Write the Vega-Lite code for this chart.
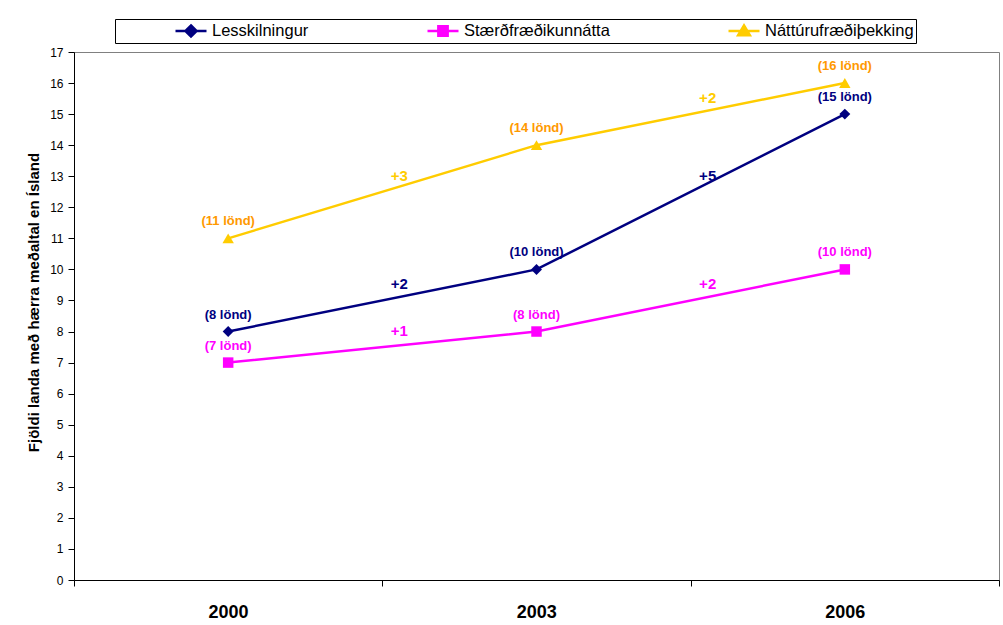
{
  "$schema": "https://vega.github.io/schema/vega-lite/v6.json",
  "width": 925,
  "height": 528,
  "autosize": {"type": "none"},
  "padding": {"left": 74, "top": 52, "right": 4, "bottom": 45},
  "background": "#ffffff",
  "config": {
    "font": "Liberation Sans",
    "view": {"stroke": "#808080", "strokeWidth": 1},
    "axisY": {"labelOverlap": false}
  },
  "datasets": {
    "scores": [
      {"series": "Lesskilningur", "year": 2000, "value": 8, "label": "(8 lönd)"},
      {"series": "Lesskilningur", "year": 2003, "value": 10, "label": "(10 lönd)"},
      {"series": "Lesskilningur", "year": 2006, "value": 15, "label": "(15 lönd)"},
      {"series": "Stærðfræðikunnátta", "year": 2000, "value": 7, "label": "(7 lönd)"},
      {"series": "Stærðfræðikunnátta", "year": 2003, "value": 8, "label": "(8 lönd)"},
      {"series": "Stærðfræðikunnátta", "year": 2006, "value": 10, "label": "(10 lönd)"},
      {"series": "Náttúrufræðiþekking", "year": 2000, "value": 11, "label": "(11 lönd)"},
      {"series": "Náttúrufræðiþekking", "year": 2003, "value": 14, "label": "(14 lönd)"},
      {"series": "Náttúrufræðiþekking", "year": 2006, "value": 16, "label": "(16 lönd)"}
    ],
    "changes": [
      {"series": "Lesskilningur", "year": 2001.5, "value": 9, "change": "+2"},
      {"series": "Lesskilningur", "year": 2004.5, "value": 12.5, "change": "+5"},
      {"series": "Stærðfræðikunnátta", "year": 2001.5, "value": 7.5, "change": "+1"},
      {"series": "Stærðfræðikunnátta", "year": 2004.5, "value": 9, "change": "+2"},
      {"series": "Náttúrufræðiþekking", "year": 2001.5, "value": 12.5, "change": "+3"},
      {"series": "Náttúrufræðiþekking", "year": 2004.5, "value": 15, "change": "+2"}
    ]
  },
  "encoding": {
    "x": {
      "field": "year", "type": "quantitative",
      "scale": {"domain": [1998.5, 2007.5], "nice": false, "zero": false},
      "axis": {
        "values": [1998.5, 2001.5, 2004.5, 2007.5],
        "labelExpr": "datum.value < 2007 ? format(datum.value + 1.5, 'd') : ''",
        "labelOffset": 154,
        "labelFontSize": 18, "labelFontWeight": "bold", "labelColor": "#000000",
        "labelPadding": 17, "tickSize": 6, "tickColor": "#000000",
        "domainColor": "#000000", "grid": false, "title": null,
        "labelOverlap": false, "labelBound": false, "labelFlush": false
      }
    },
    "y": {
      "field": "value", "type": "quantitative",
      "scale": {"domain": [0, 17], "nice": false, "zero": true},
      "axis": {
        "values": [0,1,2,3,4,5,6,7,8,9,10,11,12,13,14,15,16,17],
        "tickCount": 20,
        "labelOverlap": false, "labelBound": false, "labelFlush": false,
        "labelFontSize": 12, "labelColor": "#000000", "labelPadding": 5,
        "tickSize": 6, "tickColor": "#000000", "domainColor": "#000000", "grid": false,
        "title": "Fjöldi landa með hærra meðaltal en Ísland",
        "titleFontSize": 15, "titleFontWeight": "bold", "titleColor": "#000000",
        "titlePadding": 8, "titleY": 250
      }
    }
  },
  "layer": [
    {
      "data": {"name": "scores"},
      "mark": {"type": "line", "strokeWidth": 2.5},
      "encoding": {
        "color": {
          "field": "series", "type": "nominal",
          "scale": {
            "domain": ["Lesskilningur", "Stærðfræðikunnátta", "Náttúrufræðiþekking"],
            "range": ["#000080", "#FF00FF", "#FFCC00"]
          },
          "legend": {
            "orient": "none", "legendX": 41, "legendY": -33,
            "direction": "horizontal", "columns": 3, "columnPadding": 117,
            "title": " ", "titleOrient": "left", "titlePadding": 57, "titleFontSize": 16,
            "padding": 2, "strokeColor": "#000000", "fillColor": "#ffffff",
            "labelFont": "Liberation Sans", "labelFontSize": 16.5, "labelColor": "#000000",
            "labelLimit": 600, "labelOffset": 4,
            "symbolSize": 961, "clipHeight": 20, "symbolStrokeWidth": 2.5,
            "encode": {
              "symbols": {
                "update": {
                  "shape": {"signal": "datum.value === 'Lesskilningur' ? 'M-1,0H1M0,-0.36L0.36,0L0,0.36L-0.36,0Z' : datum.value === 'Stærðfræðikunnátta' ? 'M-1,0H1M-0.3,-0.3H0.3V0.3H-0.3Z' : 'M-1,0H1M0,-0.36L0.38,0.28H-0.38ZM14.45,0'"},
                  "fill": {"signal": "scale('color', datum.value)"},
                  "stroke": {"signal": "scale('color', datum.value)"},
                  "strokeWidth": {"value": 2.5},
                  "opacity": {"value": 1}
                }
              }
            }
          }
        }
      }
    },
    {
      "data": {"name": "scores"},
      "transform": [{"filter": "datum.series === 'Lesskilningur'"}],
      "mark": {"type": "point", "shape": "diamond", "filled": true, "opacity": 1, "size": 120},
      "encoding": {
        "color": {"field": "series", "type": "nominal", "legend": null}
      }
    },
    {
      "data": {"name": "scores"},
      "transform": [{"filter": "datum.series === 'Stærðfræðikunnátta'"}],
      "mark": {"type": "point", "shape": "square", "filled": true, "opacity": 1, "size": 110},
      "encoding": {
        "color": {"field": "series", "type": "nominal", "legend": null}
      }
    },
    {
      "data": {"name": "scores"},
      "transform": [{"filter": "datum.series === 'Náttúrufræðiþekking'"}],
      "mark": {"type": "point", "shape": "triangle-up", "filled": true, "opacity": 1, "size": 130},
      "encoding": {
        "color": {"field": "series", "type": "nominal", "legend": null}
      }
    },
    {
      "data": {"name": "scores"},
      "mark": {"type": "text", "fontWeight": "bold", "fontSize": 13, "dy": -17, "baseline": "middle", "align": "center"},
      "encoding": {
        "text": {"field": "label"},
        "color": {
          "condition": {"test": "datum.series === 'Náttúrufræðiþekking'", "value": "#FF9900"},
          "field": "series", "type": "nominal", "legend": null
        }
      }
    },
    {
      "data": {"name": "changes"},
      "mark": {"type": "text", "fontWeight": "bold", "fontSize": 15, "dx": 17, "dy": -16, "baseline": "middle", "align": "center"},
      "encoding": {
        "text": {"field": "change"},
        "color": {"field": "series", "type": "nominal", "legend": null}
      }
    }
  ]
}
